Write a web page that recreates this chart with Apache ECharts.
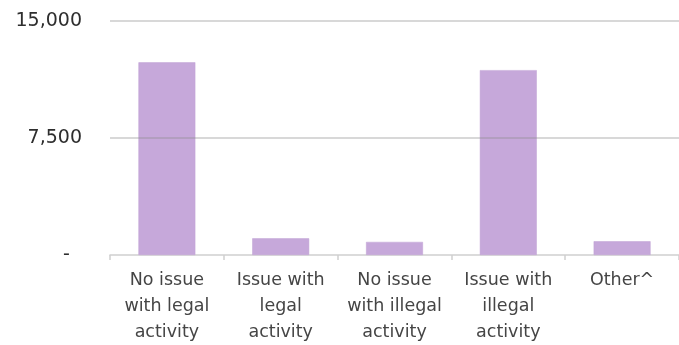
<!DOCTYPE html>
<html>
<head>
<meta charset="utf-8">
<script src="https://cdn.jsdelivr.net/npm/echarts@6/dist/echarts.min.js"></script>
<style>
  html, body { margin: 0; padding: 0; background: #fff; }
  #chart { width: 679px; height: 345px; }
</style>
</head>
<body>
<div id="chart"></div>
<script>
// Outcome categories and their counts
const categories = [
  'No issue\nwith legal\nactivity',
  'Issue with\nlegal\nactivity',
  'No issue\nwith illegal\nactivity',
  'Issue with\nillegal\nactivity',
  'Other^'
];
const counts = [12350, 1070, 840, 11850, 880];

// Value axis range and tick step
const axisMin = 0;
const axisMax = 15000;
const axisStep = 7500;

const fontFamily = '"DejaVu Sans", "Open Sans", sans-serif';

const chart = echarts.init(document.getElementById('chart'), null, { renderer: 'canvas' });

chart.setOption({
  animation: false,
  grid: { left: 110, top: 21, width: 576, bottom: 86, containLabel: false },
  xAxis: {
    type: 'category',
    data: categories,
    axisLine: { show: true, lineStyle: { color: '#d0d0d0', width: 1.5 } },
    axisTick: { show: true, length: 5, lineStyle: { color: '#d0d0d0', width: 1.5 } },
    axisLabel: {
      interval: 0,
      margin: 12,
      color: '#454545',
      fontSize: 17.5,
      lineHeight: 26,
      fontFamily: fontFamily
    }
  },
  yAxis: {
    type: 'value',
    min: axisMin,
    max: axisMax,
    interval: axisStep,
    z: 3,
    axisLine: { show: false },
    axisTick: { show: false },
    splitLine: {
      show: true,
      showMinLine: false,
      lineStyle: { color: 'rgba(140,140,140,0.45)', width: 1.5 }
    },
    axisLabel: {
      margin: 28,
      color: '#2e2e2e',
      fontSize: 19,
      fontFamily: fontFamily,
      formatter: function (v) {
        // zero is shown as a dash, set in from the other labels
        return v === 0 ? '-  ' : v.toLocaleString('en-US');
      }
    }
  },
  series: [{
    type: 'bar',
    data: counts,
    barWidth: '50%',
    itemStyle: { color: '#c6a8da', borderColor: '#c0a2d4', borderWidth: 0.5 }
  }]
});
</script>
</body>
</html>
